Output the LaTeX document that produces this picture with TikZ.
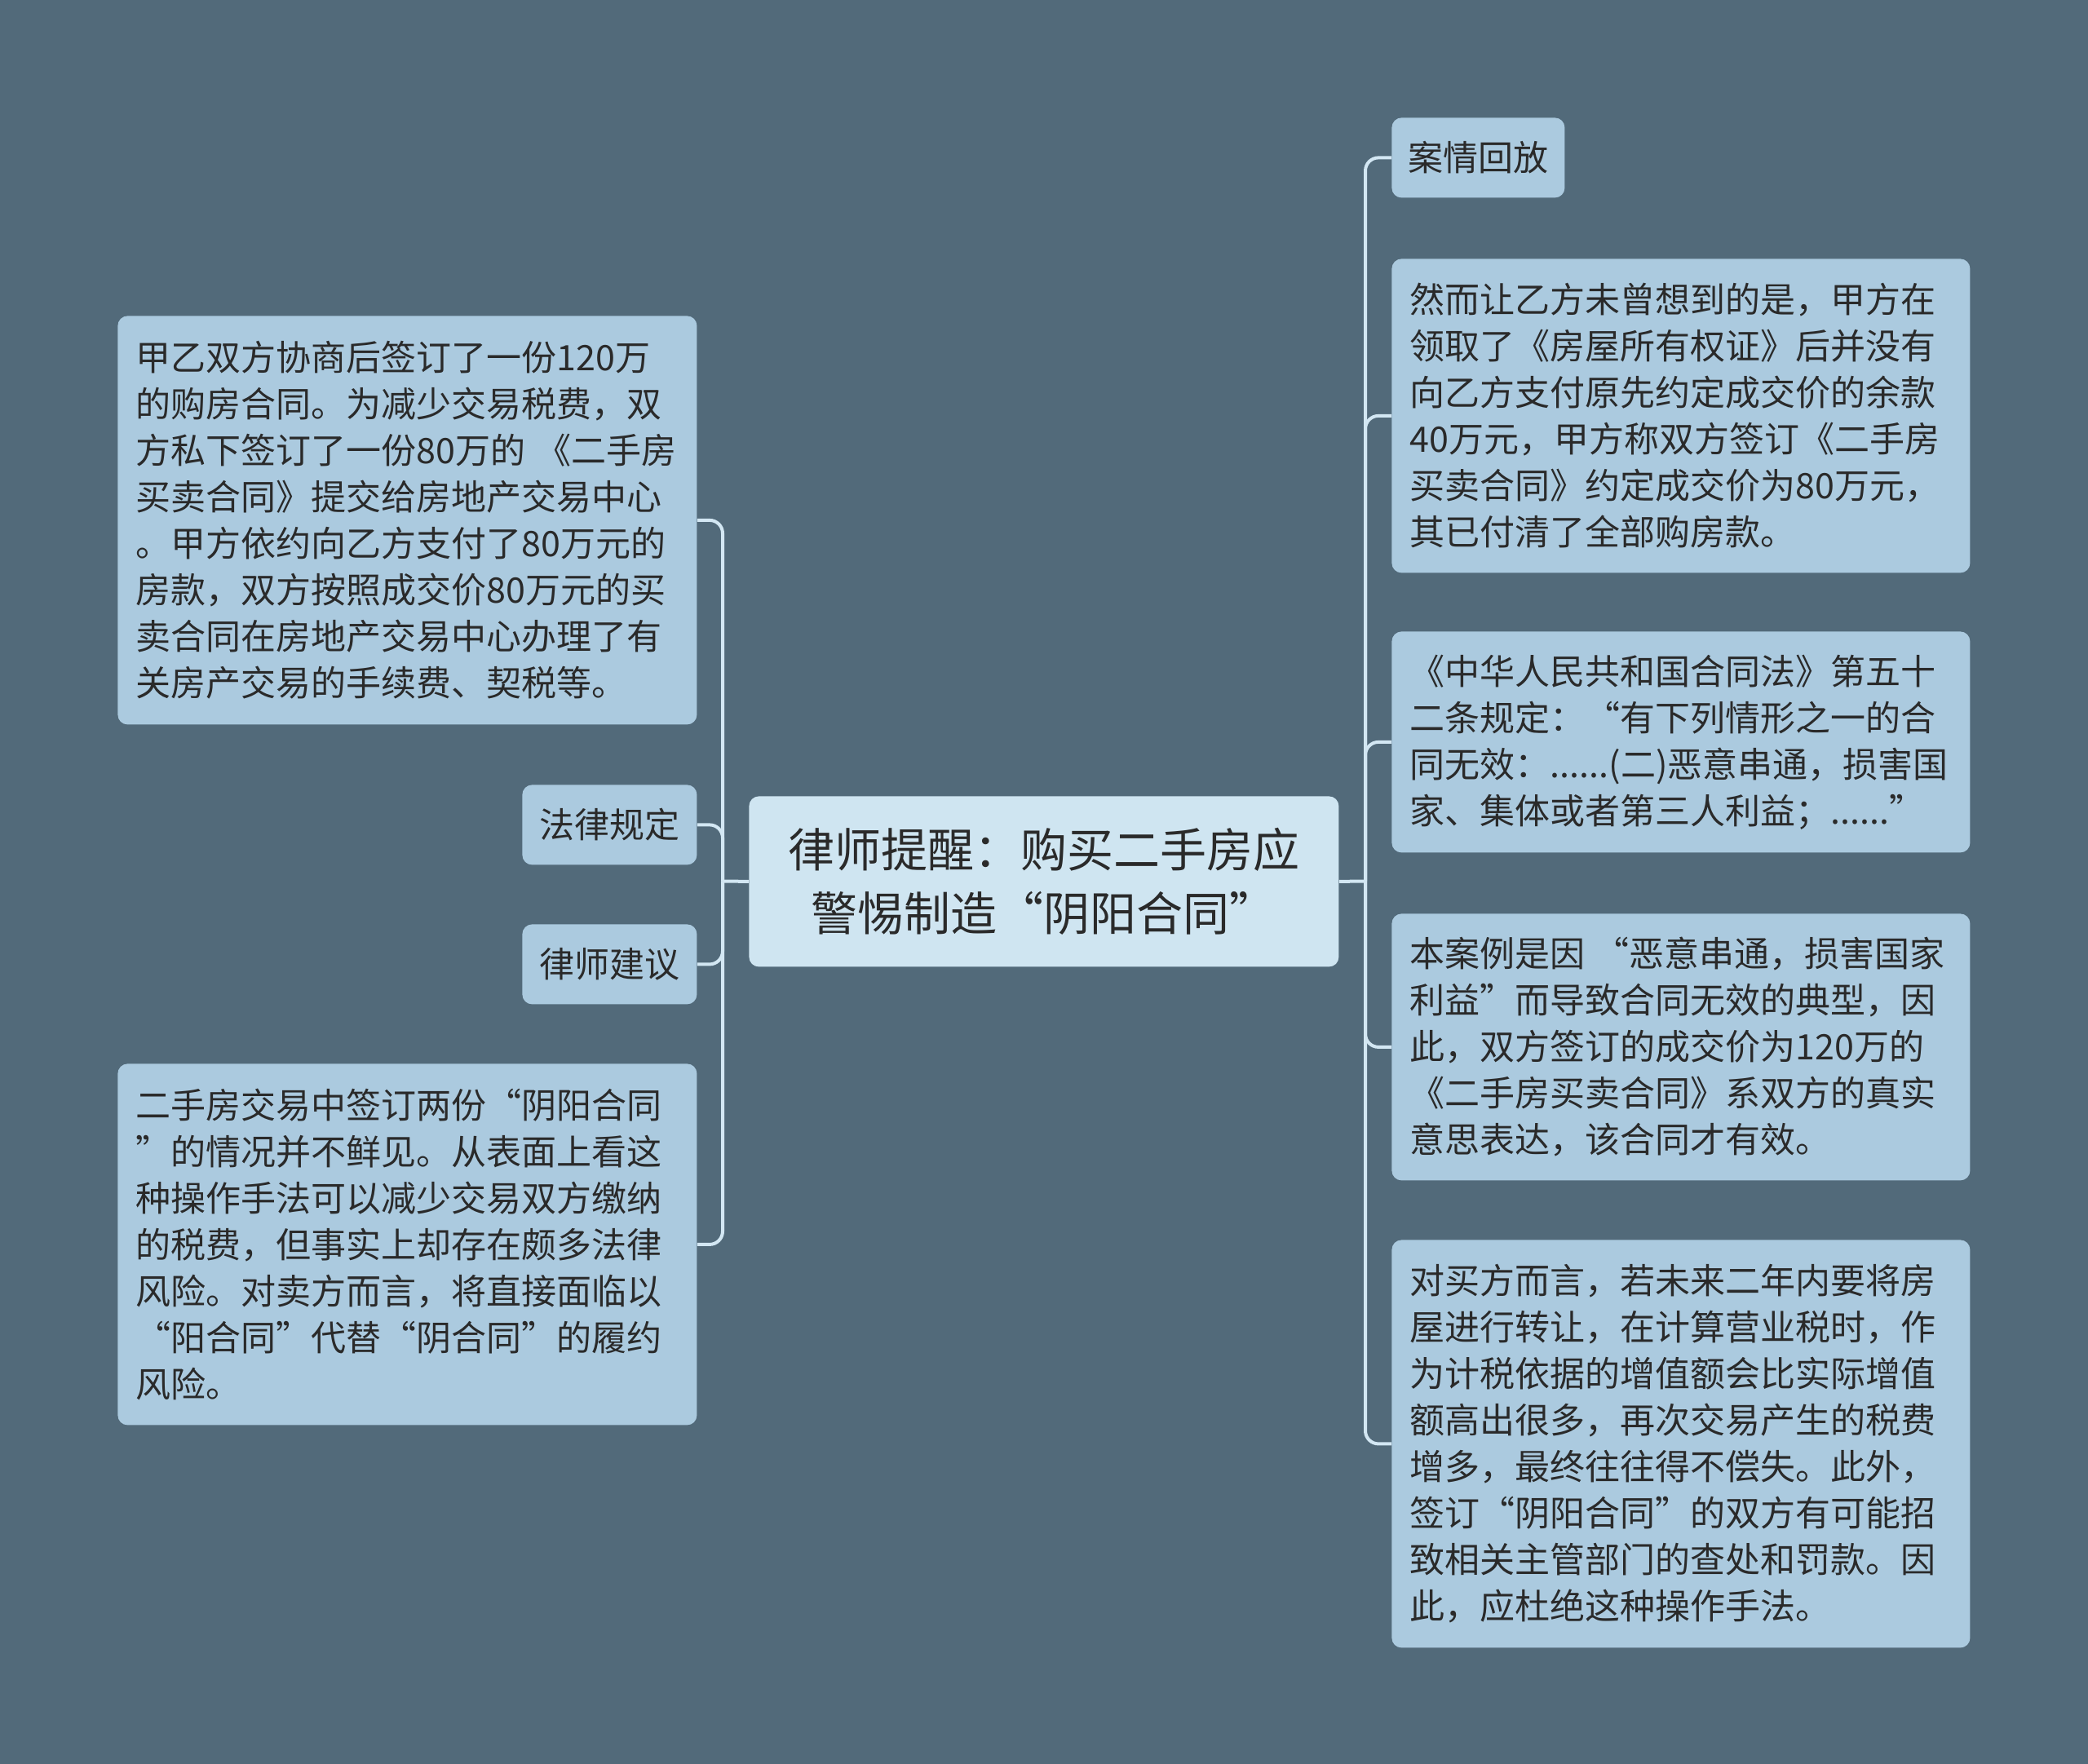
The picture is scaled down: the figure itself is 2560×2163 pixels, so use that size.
\documentclass[tikz,border=0pt]{standalone}
\usepackage{fontspec}
\setmainfont{Noto Sans CJK SC}
\definecolor{bgc}{HTML}{526A7A}
\definecolor{boxc}{HTML}{ABCADF}
\definecolor{cenc}{HTML}{CFE5F1}
\definecolor{linec}{HTML}{D3E7F3}
\definecolor{txtc}{HTML}{2A2A2A}
\newcommand\myqL{\makebox[1em][r]{“}}
\newcommand\myqR{\makebox[1em][l]{”}}
\begin{document}
\begin{tikzpicture}[x=0.5pt,y=-0.5pt,
  txtbox/.style={fill=boxc, rounded corners=6pt, text=txtc, anchor=north west,
    align=left, inner xsep=11.25pt, inner ysep=0pt,
    font={\fontsize{21.5pt}{28.5pt}\selectfont\parindent=0pt}},
  tagbox/.style={fill=boxc, rounded corners=6pt, text=txtc, anchor=north west,
    align=center, inner sep=0pt, minimum height=49pt,
    font={\fontsize{21.5pt}{28.5pt}\selectfont}},
  cenbox/.style={fill=cenc, rounded corners=6pt, text=txtc, anchor=north west,
    align=center, inner sep=0pt, minimum width=361.5pt, minimum height=104.5pt,
    font={\fontsize{28.5pt}{39pt}\selectfont}},
  conn/.style={draw=linec, line width=2pt, rounded corners=8pt}]
\fill[bgc] (0,0) rectangle (2560,2163);
\useasboundingbox (0,0) rectangle (2560,2163);

% central node
\node[cenbox] (c) at (918,976) {律师提醒：购买二手房应\\警惕制造\myqL 阴阳合同\myqR};

% left nodes
\node[txtbox, text width=332.5pt, minimum height=250.5pt] (l1) at (144,387) {甲乙双方协商后签订了一份120万\\的购房合同。为减少交易税费，双\\方私下签订了一份80万的\hspace{0.3em}《二手房\\买卖合同》提交给房地产交易中心\\。甲方依约向乙方支付了80万元的\\房款，双方按照成交价80万元的买\\卖合同在房地产交易中心办理了有\\关房产交易的手续费、契税等。};
\node[tagbox, minimum width=107pt] (l2) at (640,962) {法律规定};
\node[tagbox, minimum width=107pt] (l3) at (640,1133) {律师建议};
\node[txtbox, text width=332.5pt, minimum height=221.5pt] (l4) at (144,1304) {二手房交易中签订两份\myqL 阴阳合同\\\myqR 的情况并不鲜见。从表面上看这\\种操作手法可以减少交易双方缴纳\\的税费，但事实上却存在颇多法律\\风险。对卖方而言，将直接面临以\\\myqL 阳合同\myqR 代替\myqL 阴合同\myqR 的履约\\风险。};

% right nodes
\node[tagbox, minimum width=106pt] (r1) at (1706,144) {案情回放};
\node[txtbox, text width=332pt, minimum height=192.5pt] (r2) at (1706,317) {然而让乙方未曾想到的是，甲方在\\领取了《房屋所有权证》后并没有\\向乙方支付原先约定成交价的余款\\40万元，甲方称双方签订《二手房\\买卖合同》约定成交价为80万元，\\其已付清了全部购房款。};
\node[txtbox, text width=332pt, minimum height=135.5pt] (r3) at (1706,774) {《中华人民共和国合同法》第五十\\二条规定：\myqL 有下列情形之一的合\\同无效：......(二)恶意串通，损害国\\家、集体或者第三人利益；......\myqR};
\node[txtbox, text width=332pt, minimum height=163.5pt] (r4) at (1706,1120) {本案例是因\hspace{0.25em}\myqL 恶意串通，损害国家\\利益\myqR 而导致合同无效的典型，因\\此，双方签订的成交价为120万的\\《二手房买卖合同》系双方的真实\\意思表达，该合同才有效。};
\node[txtbox, text width=332pt, minimum height=250pt] (r5) at (1706,1520) {对买方而言，若未来二年内要将房\\屋进行转让，在计算营业税时，作\\为计税依据的增值额会比实际增值\\额高出很多，再次交易产生的税费\\增多，最终往往得不偿失。此外，\\签订\myqL 阴阳合同\myqR 的双方有可能招\\致相关主管部门的查处和罚款。因\\此，应杜绝这种操作手法。};

% junctions
\coordinate (lj) at (886,1080.5);
\coordinate (rj) at (1674,1080.5);

% connectors
\draw[conn] (c.west) -- (lj);
\draw[conn] (c.east) -- (rj);
\draw[conn] (lj) |- (l1.east);
\draw[conn] (lj) |- (l2.east);
\draw[conn] (lj) |- (l3.east);
\draw[conn] (lj) |- (l4.east);
\draw[conn] (rj) |- (r1.west);
\draw[conn] (rj) |- (r2.west);
\draw[conn] (rj) |- (r3.west);
\draw[conn] (rj) |- (r4.west);
\draw[conn] (rj) |- (r5.west);
\end{tikzpicture}
\end{document}
